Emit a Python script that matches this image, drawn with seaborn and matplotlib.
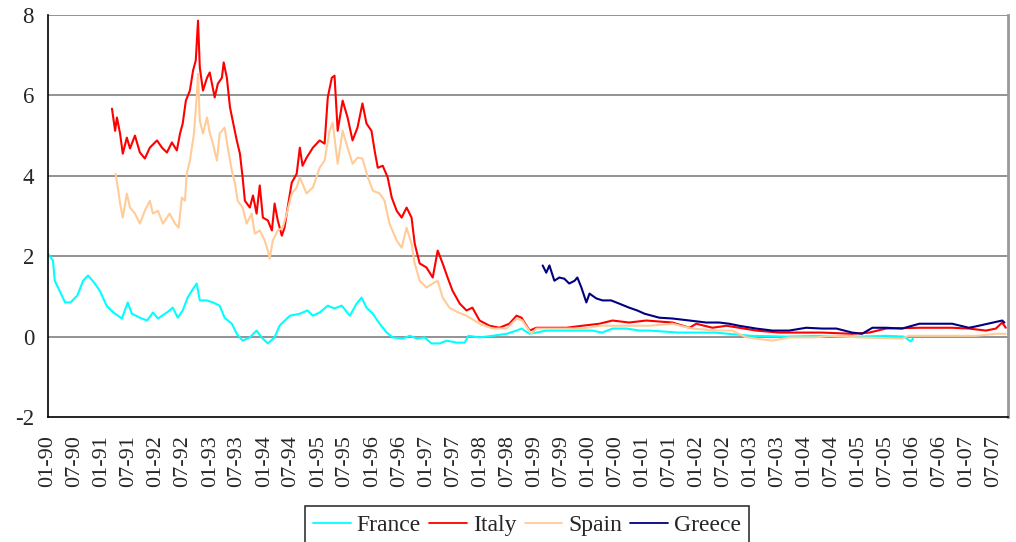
import numpy as np
import pandas as pd
import matplotlib
matplotlib.use('Agg')
import matplotlib.pyplot as plt
import seaborn as sns

# x values are months since 01-1990
france_m = [0, 1.1, 1.5, 3.8, 5, 6.5, 7.8, 8.9, 10.4, 11.5, 13, 14.5, 16.4, 17.7, 18.6,
            20.4, 22, 23.3, 24.4, 26.4, 27.7, 28.8, 29.9, 31, 32.2, 33, 33.7, 35.2,
            36.6, 38.1, 39.2, 40.8, 41.9, 43.2, 44.8, 46.3, 47.4, 48.8, 50.3, 51.4,
            52.1, 53.7, 55.9, 57.6, 58.8, 60.3, 62.1, 63.6, 65.2, 67, 68.5, 69.6,
            70.7, 72.1, 73.6, 75.2, 76.5, 78.7, 80.3, 82, 83.6, 85.1, 86.9, 88.5,
            90.7, 92.5, 93.3, 95.8, 98.7, 101.8, 104, 105.1, 106.9, 108.4, 110.6,
            113.5, 117.3, 120.8, 123, 125.3, 128.4, 131.3, 133.5, 140, 148, 156,
            164, 172, 180, 186, 190, 191.5, 192]
france_v = [2.06, 1.89, 1.39, 0.85, 0.85, 1.02, 1.39, 1.52, 1.32, 1.14, 0.77, 0.60,
            0.45, 0.85, 0.57, 0.47, 0.40, 0.60, 0.45, 0.60, 0.72, 0.47, 0.65, 0.97,
            1.19, 1.32, 0.90, 0.90, 0.85, 0.77, 0.47, 0.32, 0.07, -0.10, -0.02, 0.15,
            -0.02, -0.17, -0.02, 0.27, 0.35, 0.52, 0.57, 0.65, 0.52, 0.60, 0.77, 0.70,
            0.77, 0.52, 0.82, 0.97, 0.72, 0.57, 0.32, 0.10, -0.02, -0.05, 0.02, -0.05,
            -0.02, -0.17, -0.17, -0.10, -0.15, -0.15, 0.02, -0.02, 0.02, 0.07, 0.15,
            0.20, 0.07, 0.10, 0.15, 0.15, 0.15, 0.15, 0.10, 0.20, 0.20, 0.15, 0.15,
            0.10, 0.10, 0.02, 0.00, 0.02, 0.00, 0.02, 0.00, -0.12, -0.05]

italy_m = [14.2, 14.9, 15.3, 16, 16.6, 17.5, 18.2, 19.3, 20.4, 21.5, 22.6, 24.2, 25.3,
           26.4, 27.5, 28.6, 29.3, 29.9, 30.6, 31.5, 32.2, 32.8, 33.3, 33.7, 34.4,
           35.3, 35.9, 37, 37.7, 38.6, 39, 39.7, 40.4, 41, 41.9, 42.6, 43.2, 43.7,
           44.8, 45.5, 46.3, 47, 47.7, 48.8, 49.7, 50.3, 51, 51.9, 52.5, 53.2, 54.1,
           55.2, 55.9, 56.5, 57.4, 58.8, 60.3, 61.4, 62.1, 63, 63.6, 64.3, 65.4,
           66.5, 67.6, 68.7, 69.8, 70.7, 71.8, 72.5, 73.2, 74.3, 75.4, 76.3, 77.4,
           78.5, 79.6, 80.7, 81.4, 82.5, 84, 85.4, 86.5, 87.6, 88.7, 89.8, 91.4,
           92.9, 94.2, 95.8, 98, 100.2, 102.4, 104, 105.1, 106.9, 108.4, 111.3,
           115.1, 118.6, 122.4, 125.3, 129, 132.8, 138.6, 142.4, 143.9, 147.5,
           150.6, 153.4, 157.2, 162.3, 168.3, 171.8, 178.5, 182.3, 186, 193.4,
           200.7, 204.4, 208.2, 210.4, 211.8, 212.6]
italy_v = [5.67, 5.12, 5.45, 5.05, 4.55, 4.95, 4.68, 5.00, 4.58, 4.43, 4.70, 4.88,
           4.70, 4.58, 4.83, 4.63, 5.05, 5.30, 5.87, 6.12, 6.62, 6.87, 7.86, 6.69,
           6.12, 6.44, 6.57, 5.95, 6.29, 6.44, 6.82, 6.44, 5.70, 5.37, 4.88, 4.55,
           3.96, 3.38, 3.21, 3.51, 3.06, 3.76, 2.96, 2.89, 2.64, 3.31, 2.89, 2.51,
           2.71, 3.21, 3.83, 4.05, 4.70, 4.25, 4.45, 4.70, 4.88, 4.80, 5.95, 6.44,
           6.49, 5.12, 5.87, 5.45, 4.88, 5.20, 5.80, 5.30, 5.12, 4.63, 4.20, 4.25,
           3.96, 3.46, 3.13, 2.96, 3.21, 2.96, 2.31, 1.82, 1.72, 1.47, 2.14, 1.82,
           1.47, 1.14, 0.82, 0.65, 0.72, 0.40, 0.27, 0.22, 0.32, 0.52, 0.47, 0.15,
           0.22, 0.22, 0.22, 0.27, 0.32, 0.40, 0.35, 0.40, 0.35, 0.22, 0.32, 0.22,
           0.27, 0.22, 0.15, 0.10, 0.10, 0.10, 0.07, 0.10, 0.20, 0.22, 0.22, 0.20,
           0.15, 0.20, 0.35, 0.22]

spain_m = [15, 15.5, 16, 16.6, 17.5, 18.2, 19.3, 20.4, 21.5, 22.6, 23.3, 24.4, 25.5,
           27, 28.2, 29, 29.7, 30.4, 30.8, 31.5, 32.4, 33, 33.3, 33.7, 34.4, 35.3,
           35.9, 36.6, 37.5, 38.1, 39.2, 39.9, 40.8, 41.5, 42.1, 43.2, 44.1, 45.2,
           45.9, 47, 48.1, 48.8, 49.2, 49.9, 51, 52.1, 53, 54.1, 55.2, 55.9, 57.4,
           58.8, 60.3, 61.4, 62.5, 63.2, 64.3, 65.4, 66.5, 67.6, 68.7, 69.8, 71,
           72.1, 73.6, 74.7, 75.8, 77.4, 78.5, 79.6, 80.7, 81.4, 82.5, 84, 85.4,
           86.5, 87.6, 89.1, 90.7, 92.9, 95.8, 98.7, 101.8, 104, 105.3, 107.3,
           108.4, 111.3, 118.6, 122.4, 126.2, 129.7, 133.5, 138.6, 143, 148.3,
           151.9, 155, 160.8, 164.5, 170.5, 173.4, 180, 189.6, 191, 200, 206, 210.4,
           212.6]
spain_v = [4.05, 3.71, 3.31, 2.96, 3.56, 3.21, 3.06, 2.81, 3.13, 3.38, 3.06, 3.13,
           2.81, 3.06, 2.81, 2.71, 3.46, 3.38, 4.05, 4.38, 5.05, 5.95, 6.54, 5.37,
           5.05, 5.45, 5.07, 4.80, 4.38, 5.05, 5.20, 4.70, 4.13, 3.81, 3.38, 3.21,
           2.81, 3.06, 2.56, 2.64, 2.39, 2.14, 1.94, 2.39, 2.64, 2.71, 3.06, 3.56,
           3.71, 3.96, 3.56, 3.71, 4.20, 4.38, 5.12, 5.32, 4.30, 5.12, 4.70, 4.30,
           4.45, 4.43, 3.96, 3.63, 3.56, 3.38, 2.81, 2.39, 2.21, 2.71, 2.31, 1.82,
           1.39, 1.22, 1.32, 1.39, 0.97, 0.72, 0.62, 0.52, 0.32, 0.20, 0.20, 0.45,
           0.40, 0.07, 0.20, 0.20, 0.20, 0.27, 0.27, 0.27, 0.27, 0.32, 0.20, 0.15,
           0.15, -0.02, -0.10, -0.02, -0.02, 0.02, -0.02, -0.05, 0.02, 0.02, 0.02,
           0.07, 0.07]

greece_m = [109.8, 110.6, 111.3, 112.4, 113.5, 114.6, 115.7, 116.9, 117.5, 118.4,
            119.5, 120.2, 121.7, 123.1, 125, 126.8, 129, 130.8, 132.4, 135.7,
            138.6, 142.4, 146.1, 149, 151.2, 153.4, 157.2, 160.8, 164.5, 168.3,
            171.8, 175, 178.5, 180.7, 183, 186, 189.6, 193.4, 197.1, 200.7, 204.4,
            205.8, 211.8, 212.3]
greece_v = [1.77, 1.59, 1.77, 1.39, 1.47, 1.44, 1.32, 1.39, 1.47, 1.22, 0.85, 1.07,
            0.95, 0.90, 0.90, 0.82, 0.72, 0.65, 0.57, 0.47, 0.45, 0.40, 0.35, 0.35,
            0.32, 0.27, 0.20, 0.15, 0.15, 0.22, 0.20, 0.20, 0.10, 0.07, 0.22, 0.22,
            0.20, 0.32, 0.32, 0.32, 0.22, 0.25, 0.40, 0.35]

names = ['France', 'Italy', 'Spain', 'Greece']
colors = ['#00FFFF', '#FF0000', '#FFCC99', '#000080']
series = [(france_m, france_v), (italy_m, italy_v), (spain_m, spain_v), (greece_m, greece_v)]

start = pd.Timestamp('1990-01-01')


def to_dates(months):
    return start + pd.to_timedelta(np.array(months) * 30.4375, unit='D')


frames = []
for name, (m, v) in zip(names, series):
    frames.append(pd.DataFrame({'date': to_dates(m), 'spread': v, 'country': name}))
df = pd.concat(frames, ignore_index=True)

sns.set_theme(style='white')
plt.rcParams['font.family'] = ['Liberation Serif', 'DejaVu Serif']

fig = plt.figure(figsize=(10.16, 5.42), dpi=100)
ax = fig.add_axes([48 / 1016, 1 - 417 / 542, 960 / 1016, 402 / 542])

# gridlines a 0, 2, 4, 6, 8
for y in [0, 2, 4, 6, 8]:
    ax.axhline(y, color='#808080', lw=1.2, zorder=0)

sns.lineplot(data=df, x='date', y='spread', hue='country', hue_order=names,
             palette=colors, lw=1.5, ax=ax, legend=False, estimator=None, sort=False)

ax.set_xlim(start, pd.Timestamp('2007-10-05'))
ax.set_ylim(-2, 8)
ax.set_yticks([-2, 0, 2, 4, 6, 8])
ax.set_yticklabels(['-2', '0', '2', '4', '6', '8'])

tick_dates = pd.date_range('1990-01-01', '2007-07-01', freq='6MS')
ax.set_xticks(tick_dates)
ax.set_xticklabels([d.strftime('%m-%y') for d in tick_dates], rotation=90)
ax.set_xlabel('')
ax.set_ylabel('')

ax.tick_params(axis='both', which='major', labelsize=16, direction='out',
               length=7, width=1, color='black', pad=3)
ax.tick_params(axis='y', labelsize=16.5)
ax.tick_params(axis='x', pad=6)

for side in ['left', 'bottom']:
    ax.spines[side].set_color('black')
    ax.spines[side].set_linewidth(1.2)
ax.spines['top'].set_visible(False)
ax.spines['right'].set_color('#999999')
ax.spines['right'].set_linewidth(2)

handles = [plt.Line2D([], [], color=c, lw=1.3) for c in colors]
leg = fig.legend(handles, names, loc='upper center', ncol=4,
                 bbox_to_anchor=(527 / 1016, 1 - 506 / 542), fontsize=17,
                 frameon=True, fancybox=False, edgecolor='black',
                 handlelength=1.6, handletextpad=0.25, columnspacing=0.35,
                 borderpad=0.35, borderaxespad=0)
leg.get_frame().set_linewidth(1.2)

fig.savefig('out.png', dpi=100)
